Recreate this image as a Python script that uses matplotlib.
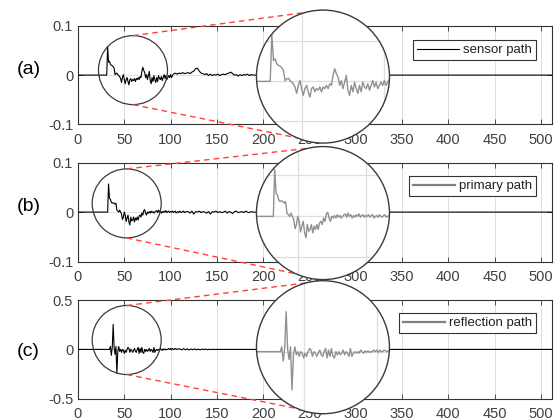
import numpy as np
import matplotlib
matplotlib.use("Agg")
import matplotlib.pyplot as plt
from matplotlib.patches import Circle
from matplotlib.lines import Line2D
from matplotlib.transforms import IdentityTransform

plt.rcParams['font.family'] = ['Liberation Sans', 'DejaVu Sans']

# ---------------- data ----------------
N_END = 512

# (a) sensor path: dense samples 32..102, then every 2nd sample 103..191
sensor_head_start = 32
sensor_head = [
    0.058, 0.026, 0.028, 0.022, 0.020, 0.019, 0.017, 0.014, 0.001, 0.003,
    0.004, 0.001, -0.001, -0.003, -0.007, -0.015, -0.005, 0.001, -0.009, -0.0175,
    -0.009, -0.005, -0.013, -0.0196, -0.009, -0.007, -0.013, -0.009, -0.011, -0.007,
    -0.013, -0.007, -0.009, -0.005, -0.009, -0.003, -0.005, 0.0075, 0.0158, 0.0096,
    0.0054, -0.005, 0.001, -0.009, -0.001, 0.0075, -0.011, -0.0175, -0.005, -0.013,
    -0.001, -0.009, -0.015, -0.005, -0.013, -0.001, -0.007, -0.009, -0.003, -0.011,
    -0.005, 0.001, -0.007, -0.001, -0.009, -0.005, -0.001, -0.005, 0.001, -0.005, -0.001,
]
sensor_tail_start = 103
sensor_tail = [
    0.002, 0.004, 0.002, 0.004, 0.003, 0.005, 0.003, 0.004, 0.005, 0.003,
    0.006, 0.008, 0.013, 0.014, 0.008, 0.004, 0.003, 0.001, 0.003, -0.001,
    0.002, -0.001, 0.001, 0.000, 0.002, -0.001, 0.001, 0.002, 0.001, 0.003,
    0.004, 0.006, 0.003, 0.000, 0.001, -0.002, 0.001, -0.001, 0.001, 0.000,
    0.002, -0.001, 0.001, 0.000, 0.000,
]

# (b) primary path: dense samples 33..117, then every 2nd sample 119..191
primary_head_start = 33
primary_head = [
    0.057, 0.028, 0.026, 0.020, 0.018, 0.019, 0.018, 0.016, 0.018, 0.004,
    0.002, 0.000, 0.004, 0.000, -0.004, -0.015, -0.010, 0.000, -0.006, -0.019,
    -0.012, -0.006, -0.020, -0.026, -0.010, -0.018, -0.016, -0.010, -0.020, -0.012,
    -0.016, -0.010, -0.016, -0.008, -0.006, -0.010, -0.002, -0.006, 0.003, 0.005,
    -0.002, -0.006, 0.000, -0.002, 0.001, -0.002, 0.002, -0.001, 0.001, -0.002,
    0.000, 0.002, 0.003, -0.001, 0.004, 0.000, 0.002, -0.002, 0.001, -0.001,
    0.002, 0.000, 0.003, -0.001, 0.001, 0.002, -0.001, 0.001, 0.000, 0.002,
    -0.001, 0.001, 0.002, -0.002, 0.000, 0.001, -0.001, 0.002, 0.000, -0.001,
    0.001, 0.002, -0.001, 0.000, 0.001,
]
primary_tail_start = 119
primary_tail = [
    0.001, -0.002, 0.002, -0.004, 0.001, 0.000, 0.002, -0.001, 0.001, 0.000,
    -0.002, 0.001, -0.004, 0.001, 0.000, 0.002, -0.001, 0.001, -0.001, 0.000,
    0.002, -0.002, 0.001, 0.000, -0.003, 0.001, 0.002, -0.001, 0.000, 0.001,
    -0.001, 0.002, 0.000, -0.001, 0.001, 0.000, 0.000,
]

# (c) reflection path: dense samples 34..108, then every 2nd sample 110..150
reflection_head_start = 34
reflection_head = [
    0.000, 0.030, -0.060, 0.020, 0.253, 0.020, -0.050, 0.030, -0.243, -0.020,
    0.030, -0.020, 0.000, -0.030, 0.000, -0.010, -0.040, -0.010, -0.030, 0.000,
    0.020, 0.010, -0.030, 0.000, -0.010, -0.030, -0.010, 0.010, -0.020, -0.030,
    0.000, 0.020, -0.040, 0.010, -0.030, 0.020, -0.030, -0.040, 0.000, -0.020,
    0.000, -0.020, -0.010, 0.010, -0.020, 0.000, -0.010, -0.030, 0.020, -0.030,
    -0.010, 0.000, -0.010, 0.000, -0.010, 0.010, 0.000, -0.010, 0.005, -0.005,
    0.005, -0.005, 0.000, 0.000, 0.010, 0.000, 0.010, -0.005, 0.010, 0.000,
    0.000, 0.010, 0.005, 0.000, 0.005,
]
reflection_tail_start = 110
reflection_tail = [
    0.005, -0.005, 0.008, -0.004, 0.006, -0.006, 0.004, -0.003, 0.005, -0.004,
    0.003, -0.005, 0.004, -0.002, 0.003, -0.003, 0.002, -0.002, 0.002, -0.001,
    0.000,
]

panel_labels = ['(a)', '(b)', '(c)']
legend_labels = ['sensor path', 'primary path', 'reflection path']
x_ticks = [0, 50, 100, 150, 200, 250, 300, 350, 400, 450, 500]
y_ticks = [[-0.1, 0, 0.1], [-0.1, 0, 0.1], [-0.5, 0, 0.5]]
y_ticklabels = [['-0.1', '0', '0.1'], ['-0.1', '0', '0.1'], ['-0.5', '0', '0.5']]

inset_xlims = [(22.7, 103.1), (19.6, 117.4), (17.7, 108.7)]
inset_ylims = [(-0.077, 0.089), (-0.077, 0.085), (-0.393, 0.449)]
inset_xgrid = [50, 100]
inset_ygrid = [[-0.05, 0.0, 0.05], [-0.05, 0.0, 0.05], [-0.5, 0.0, 0.5]]

small_centers = [(59.4, 0.0101), (52.6, 0.0176), (52.6, 0.095)]
big_centers = [(264.6, -0.003), (264.6, -0.002), (264.6, 0.022)]


def build(head_start, head, tail_start, tail, tail_step=2):
    xs = [0, head_start - 1]
    ys = [0.0, 0.0]
    xs += list(range(head_start, head_start + len(head)))
    ys += list(head)
    xs += list(range(tail_start, tail_start + tail_step * len(tail), tail_step))
    ys += list(tail)
    xs += [xs[-1] + tail_step, N_END]
    ys += [0.0, 0.0]
    return np.array(xs, float), np.array(ys, float)


series = [
    build(sensor_head_start, sensor_head, sensor_tail_start, sensor_tail),
    build(primary_head_start, primary_head, primary_tail_start, primary_tail),
    build(reflection_head_start, reflection_head, reflection_tail_start, reflection_tail),
]

# ---------------- layout ----------------
W, H = 559, 419
fig = plt.figure(figsize=(W / 100, H / 100), dpi=100)

ax_left, ax_width = 78, 474
ax_tops = [25.7, 162.7, 300.0]
ax_h = 98.8
dark = '#333333'
grid_c = '#dedede'
inset_line_c = '#909090'
legend_line_c = ['black', '#808080', '#808080']
legend_line_w = [0.8, 1.6, 1.6]
legend_tops = [0.855, 0.865, 0.868]
label_y = [69, 206, 351]

r_small, r_big = 34.5, 66.5
axes = []
for i in range(3):
    top = ax_tops[i]
    ax = fig.add_axes([ax_left / W, 1 - (top + ax_h) / H, ax_width / W, ax_h / H])
    axes.append(ax)
    x, y = series[i]
    ax.plot(x, y, color='black', lw=0.8, zorder=3)
    ax.set_xlim(0, N_END)
    lim = y_ticks[i][-1]
    ax.set_ylim(-lim, lim)
    ax.set_xticks(x_ticks)
    ax.set_yticks(y_ticks[i])
    ax.set_yticklabels(y_ticklabels[i])
    ax.grid(True, color=grid_c, lw=0.7, zorder=0)
    ax.set_axisbelow(True)
    ax.tick_params(direction='in', top=True, right=True, length=3.5, width=0.6,
                   colors=dark, labelsize=10.5, labelcolor='#404040')
    ax.tick_params(axis='x', pad=6)
    for s in ax.spines.values():
        s.set_color(dark)
        s.set_linewidth(0.8)
    handle = Line2D([], [], color=legend_line_c[i], lw=legend_line_w[i])
    leg = ax.legend([handle], [legend_labels[i]], loc='upper right',
                    bbox_to_anchor=(0.9662, legend_tops[i]), borderaxespad=0,
                    fontsize=9.5, handlelength=3.2, handletextpad=0.3,
                    borderpad=0.3, fancybox=False, framealpha=1)
    leg.get_frame().set_edgecolor(dark)
    leg.get_frame().set_linewidth(0.8)
    for t in leg.get_texts():
        t.set_color('#222222')
    fig.text(28.5 / W, 1 - label_y[i] / H, panel_labels[i], ha='center',
             va='center', fontsize=14, color='black')

# ---------------- magnifiers ----------------
idt = IdentityTransform()
for i, ax in enumerate(axes):
    sc = ax.transData.transform(small_centers[i])
    bc = ax.transData.transform(big_centers[i])
    # small circle
    fig.add_artist(Circle(sc, r_small, transform=idt, fill=False,
                          edgecolor='#3a3a3a', lw=0.9, zorder=3))
    # dashed connectors (top to top, bottom to bottom)
    for sgn in (1, -1):
        fig.add_artist(Line2D([sc[0], bc[0]], [sc[1] + sgn * r_small, bc[1] + sgn * r_big],
                              transform=idt, color='#ff4040', lw=1.0,
                              ls=(0, (4, 3)), zorder=3))
    # inset axes in the big circle
    inv = fig.transFigure.inverted()
    p0 = inv.transform((bc[0] - r_big, bc[1] - r_big))
    p1 = inv.transform((bc[0] + r_big, bc[1] + r_big))
    axi = fig.add_axes([p0[0], p0[1], p1[0] - p0[0], p1[1] - p0[1]], zorder=5)
    axi.patch.set_visible(False)
    for s in axi.spines.values():
        s.set_visible(False)
    axi.set_xticks([])
    axi.set_yticks([])
    bg = Circle((0.5, 0.5), 0.5, transform=axi.transAxes, facecolor='white',
                edgecolor='none', zorder=0)
    axi.add_patch(bg)
    for gx in inset_xgrid:
        ln = axi.axvline(gx, color=grid_c, lw=0.9, zorder=1)
        ln.set_clip_path(bg)
    for gy in inset_ygrid[i]:
        ln = axi.axhline(gy, color=grid_c, lw=0.9, zorder=1)
        ln.set_clip_path(bg)
    x, y = series[i]
    ln, = axi.plot(x, y, color=inset_line_c, lw=1.0, zorder=2)
    ln.set_clip_path(bg)
    axi.set_xlim(*inset_xlims[i])
    axi.set_ylim(*inset_ylims[i])
    outline = Circle((0.5, 0.5), 0.5, transform=axi.transAxes, fill=False,
                     edgecolor='#3a3a3a', lw=1.0, zorder=4, clip_on=False)
    axi.add_patch(outline)

fig.savefig('out.png', dpi=100)
